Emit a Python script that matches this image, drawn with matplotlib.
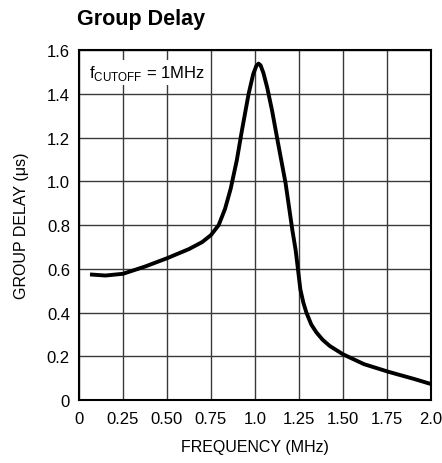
import matplotlib
matplotlib.use("Agg")
import matplotlib.pyplot as plt

# === Data ===
freq_mhz = [0.0625, 0.15, 0.25, 0.375, 0.5, 0.625, 0.70, 0.75, 0.794, 0.83,
            0.862, 0.897, 0.926, 0.964, 0.99, 1.008, 1.02, 1.032, 1.048, 1.069,
            1.097, 1.135, 1.174, 1.212, 1.231, 1.244, 1.258, 1.275, 1.292, 1.32,
            1.349, 1.385, 1.425, 1.5, 1.619, 1.758, 1.905, 2.0]
delay_us = [0.574, 0.569, 0.577, 0.610, 0.648, 0.690, 0.722, 0.754, 0.800, 0.874,
            0.966, 1.097, 1.233, 1.400, 1.490, 1.528, 1.538, 1.530, 1.495, 1.430,
            1.324, 1.158, 0.991, 0.779, 0.686, 0.600, 0.505, 0.445, 0.400, 0.345,
            0.309, 0.275, 0.247, 0.209, 0.164, 0.129, 0.096, 0.073]

xticks = [0, 0.25, 0.5, 0.75, 1.0, 1.25, 1.5, 1.75, 2.0]
xlabels = ["0", "0.25", "0.50", "0.75", "1.0", "1.25", "1.50", "1.75", "2.0"]
yticks = [0, 0.2, 0.4, 0.6, 0.8, 1.0, 1.2, 1.4, 1.6]
ylabels = ["0", "0.2", "0.4", "0.6", "0.8", "1.0", "1.2", "1.4", "1.6"]

plt.rcParams['font.family'] = ['Liberation Sans', 'DejaVu Sans']

fig = plt.figure(figsize=(4.42, 4.64), dpi=100)
ax = fig.add_axes([0.1787, 0.1358, 0.7963, 0.7542])

ax.plot(freq_mhz, delay_us, color="black", lw=2.8, solid_capstyle="butt",
        solid_joinstyle="round", zorder=3)

ax.set_xlim(0, 2.0)
ax.set_ylim(0, 1.6)
ax.set_xticks(xticks, xlabels)
ax.set_yticks(yticks, ylabels)
ax.tick_params(length=0, labelsize=12)
ax.tick_params(axis="x", pad=8)
ax.tick_params(axis="y", pad=6.5)
ax.grid(True, color="#3a3a3a", lw=1.0)
for s in ax.spines.values():
    s.set_linewidth(1.5)

ax.set_xlabel("FREQUENCY (MHz)", fontsize=11.5)
ax.set_ylabel("GROUP DELAY (\u03bcs)", fontsize=11.5)
ax.xaxis.set_label_coords(0.5, -0.111)
ax.yaxis.set_label_coords(-0.142, 0.5)

# label box hides the grid behind it
ax.text(0.058, 1.478, r"f$_{\mathregular{CUTOFF}}$ = 1MHz", fontsize=12,
        va="baseline", ha="left", zorder=4,
        bbox=dict(facecolor="white", edgecolor="none", pad=2.0))

fig.text(0.174, 0.946, "Group Delay", fontsize=15.5, fontweight="bold",
         ha="left", va="baseline")

fig.savefig("out.png", dpi=100)
